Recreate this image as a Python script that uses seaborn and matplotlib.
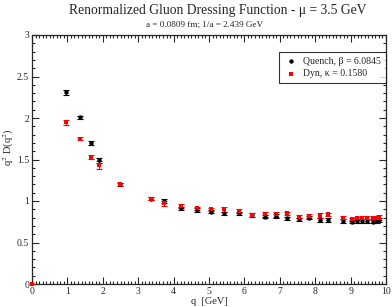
import numpy as np
import pandas as pd
import matplotlib
matplotlib.use("Agg")
import matplotlib.pyplot as plt
import seaborn as sns
from matplotlib.ticker import MultipleLocator

# ---- data ----
q_vals = [0.96, 1.36, 1.67, 1.89, 2.49, 3.36, 3.73, 4.21, 4.66, 5.06, 5.42, 5.85,
          6.21, 6.58, 6.89, 7.20, 7.54, 7.82, 8.14, 8.36, 8.79, 9.04, 9.18, 9.32,
          9.46, 9.63, 9.75, 9.80]
quench_vals = [2.31, 2.01, 1.70, 1.49, 1.20, 1.03, 1.00, 0.91, 0.89, 0.87, 0.85, 0.85,
               0.83, 0.81, 0.82, 0.79, 0.78, 0.80, 0.77, 0.77, 0.76, 0.75, 0.76, 0.76,
               0.76, 0.75, 0.76, 0.77]
quench_err = [0.03, 0.02, 0.02, 0.03, 0.02, 0.02, 0.03, 0.02, 0.02, 0.02, 0.02, 0.02,
              0.02, 0.02, 0.02, 0.02, 0.02, 0.02, 0.02, 0.02, 0.02, 0.02, 0.02, 0.02,
              0.02, 0.02, 0.02, 0.02]
dyn_q = [0.0] + q_vals
dyn_vals = [0.0, 1.95, 1.75, 1.53, 1.43, 1.20, 1.03, 0.97, 0.94, 0.91, 0.90, 0.90, 0.88,
            0.83, 0.84, 0.84, 0.85, 0.81, 0.82, 0.82, 0.84, 0.80, 0.78, 0.79, 0.80,
            0.80, 0.79, 0.79, 0.80]
dyn_err = [0.0, 0.03, 0.02, 0.02, 0.05, 0.02, 0.02, 0.03, 0.02, 0.02, 0.02, 0.03, 0.02,
           0.02, 0.03, 0.03, 0.02, 0.02, 0.02, 0.03, 0.02, 0.02, 0.02, 0.02, 0.02,
           0.02, 0.02, 0.02, 0.03]

title = "Renormalized Gluon Dressing Function - \u03bc = 3.5 GeV"
subtitle = "a = 0.0809 fm; 1/a = 2.439 GeV"
label_quench = "Quench, \u03b2 = 6.0845"
label_dyn = "Dyn, \u03ba = 0.1580"

df_q = pd.DataFrame({"q": q_vals, "val": quench_vals, "err": quench_err})
df_d = pd.DataFrame({"q": dyn_q, "val": dyn_vals, "err": dyn_err})

sns.set_style("ticks")
plt.rcParams["font.family"] = ["Liberation Serif", "DejaVu Serif"]
plt.rcParams["mathtext.fontset"] = "stix"

fig = plt.figure(figsize=(3.92, 3.07), dpi=100)
ax = fig.add_axes([32/392, 1-284/307, (386-32)/392, (284-35)/307])

ax.errorbar(df_q["q"], df_q["val"], yerr=df_q["err"], fmt="none", ecolor="black",
            elinewidth=0.8, capsize=2.5, capthick=0.8, zorder=2)
ax.errorbar(df_d["q"], df_d["val"], yerr=df_d["err"], fmt="none", ecolor="red",
            elinewidth=0.8, capsize=2.5, capthick=0.8, zorder=3)
sns.scatterplot(data=df_q, x="q", y="val", ax=ax, color="black", marker="o", s=10,
                edgecolor="black", linewidth=0, label=label_quench, zorder=4)
sns.scatterplot(data=df_d, x="q", y="val", ax=ax, color="red", marker="s", s=10,
                edgecolor="red", linewidth=0, label=label_dyn, zorder=5, clip_on=False)

ax.set_xlim(0, 10)
ax.set_ylim(0, 3)
ax.xaxis.set_major_locator(MultipleLocator(1))
ax.xaxis.set_minor_locator(MultipleLocator(0.1))
ax.yaxis.set_minor_locator(MultipleLocator(0.1))
ax.set_yticks([0, 0.5, 1, 1.5, 2, 2.5, 3])
ax.set_yticklabels(["0", "0.5", "1", "1.5", "2", "2.5", "3"])
ax.tick_params(which="both", direction="in", top=True, right=True, labelsize=7,
               width=0.8, pad=2)
ax.tick_params(which="major", length=5)
ax.tick_params(which="minor", length=2.5)
for s in ax.spines.values():
    s.set_linewidth(0.9)

ax.set_xlabel("q  [GeV]", fontsize=7.5, labelpad=1)
ax.set_ylabel(r"q$^{2}$ D(q$^{2}$)", fontsize=7.5)
ax.yaxis.set_label_coords(-0.045, 0.55)

fig.text(0.555, 0.965, title, ha="center", va="center", fontsize=9.8)
fig.text(0.522, 0.918, subtitle, ha="center", va="center", fontsize=6.6)

leg = ax.legend(loc="upper right", bbox_to_anchor=(1.0, 0.932), borderaxespad=0,
                fontsize=7, frameon=True, fancybox=False, edgecolor="black",
                borderpad=0.5, handletextpad=0.6, handlelength=1.4, markerscale=1.0,
                labelspacing=0.35)
leg.get_frame().set_linewidth(0.8)

fig.savefig("out.png", dpi=100)
